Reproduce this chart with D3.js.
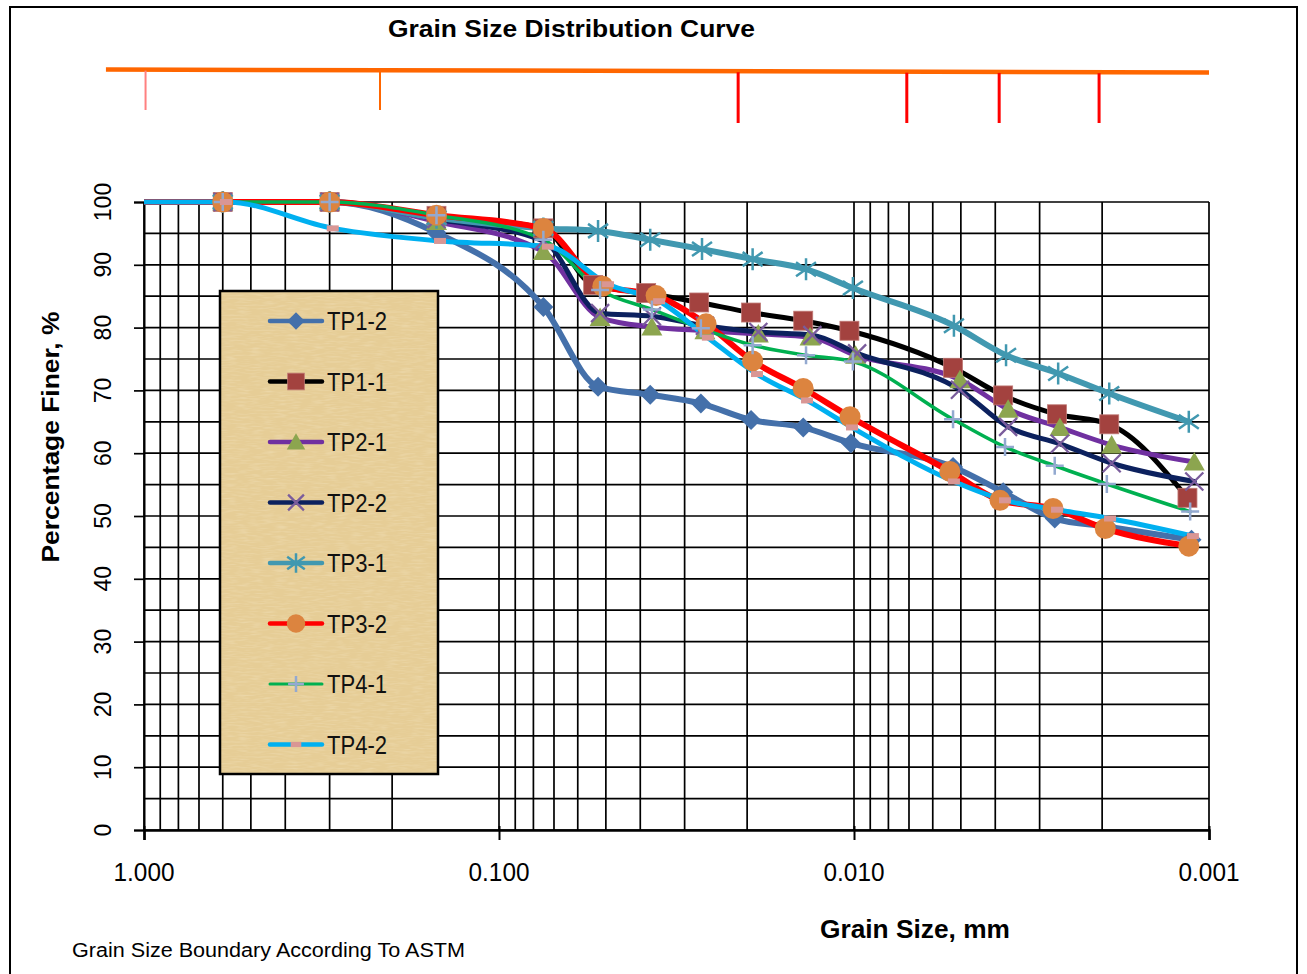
<!DOCTYPE html>
<html>
<head>
<meta charset="utf-8">
<script src="https://cdn.jsdelivr.net/npm/d3@7"></script>
<style>
  body { margin: 0; background: #fff; }
  text { font-family: "Liberation Sans", Arial, sans-serif; }
</style>
</head>
<body>
<div id="chart"></div>
<script>
// grain size (mm) and percent finer
const sizesTP12 = [1.18, 0.6, 0.3, 0.15, 0.075, 0.0526, 0.0375, 0.027, 0.0195, 0.0139, 0.0102, 0.00526, 0.0038, 0.00272, 0.00193, 0.00112];
const finerTP12 = [100, 100, 100, 95.1, 83.3, 70.6, 69.3, 67.9, 65.3, 64.1, 61.6, 57.8, 53.8, 49.6, 48.3, 46.2];

const sizesTP11 = [1.18, 0.6, 0.3, 0.15, 0.075, 0.0543, 0.0385, 0.0273, 0.0195, 0.0139, 0.0103, 0.00526, 0.0038, 0.00268, 0.00191, 0.00115];
const finerTP11 = [100, 100, 100, 97.8, 95.8, 86.8, 85.5, 84.0, 82.4, 81.1, 79.5, 73.6, 69.2, 66.2, 64.6, 52.9];

const sizesTP21 = [1.18, 0.6, 0.3, 0.15, 0.075, 0.0519, 0.0371, 0.0263, 0.0186, 0.0133, 0.0099, 0.00503, 0.00368, 0.00263, 0.00188, 0.0011];
const finerTP21 = [100, 100, 100, 96.9, 92.1, 81.6, 80.1, 79.5, 79.0, 78.5, 75.6, 71.7, 67.0, 64.1, 61.3, 58.6];

const sizesTP22 = [1.18, 0.6, 0.3, 0.15, 0.075, 0.0519, 0.0371, 0.0263, 0.0186, 0.0131, 0.0098, 0.00503, 0.00368, 0.00263, 0.00188, 0.0011];
const finerTP22 = [100, 100, 100, 97.3, 93.8, 82.3, 81.8, 80.3, 79.3, 78.8, 75.9, 70.1, 64.2, 61.5, 58.4, 55.5];

const sizesTP31 = [1.18, 0.6, 0.3, 0.15, 0.075, 0.0526, 0.0375, 0.0268, 0.0193, 0.01365, 0.01007, 0.00523, 0.00373, 0.00266, 0.00191, 0.00114];
const finerTP31 = [100, 100, 100, 97.5, 95.8, 95.4, 94.0, 92.5, 90.9, 89.3, 86.3, 80.3, 75.6, 72.7, 69.5, 65.0];

const sizesTP32 = [1.18, 0.6, 0.3, 0.15, 0.075, 0.051, 0.0361, 0.0261, 0.0193, 0.0139, 0.01026, 0.00537, 0.00388, 0.00275, 0.00196, 0.00114];
const finerTP32 = [100, 100, 100, 97.9, 95.8, 86.6, 85.1, 80.6, 74.7, 70.3, 65.8, 57.1, 52.5, 51.2, 48.0, 45.2];

const sizesTP41 = [1.18, 0.6, 0.3, 0.15, 0.075, 0.0519, 0.0371, 0.027, 0.0193, 0.01365, 0.01007, 0.00526, 0.003755, 0.00272, 0.00194, 0.00113];
const finerTP41 = [100, 100, 100, 97.9, 94.0, 86.0, 82.9, 79.9, 77.2, 75.6, 74.6, 65.4, 61.0, 58.0, 55.1, 50.7];

const sizesTP42 = [1.18, 0.588, 0.294, 0.1466, 0.0728, 0.0493, 0.0354, 0.0258, 0.01876, 0.01356, 0.01013, 0.00523, 0.003755, 0.00268, 0.0019, 0.00111];
const finerTP42 = [100, 100, 95.8, 93.8, 92.9, 86.9, 84.2, 78.4, 72.6, 68.4, 64.1, 55.5, 52.5, 51.0, 49.6, 46.8];

const seriesNames = ["TP1-2", "TP1-1", "TP2-1", "TP2-2", "TP3-1", "TP3-2", "TP4-1", "TP4-2"];

const xTickValues = [1, 0.1, 0.01, 0.001];
const xTickLabels = ["1.000", "0.100", "0.010", "0.001"];

// ASTM boundaries marked above the chart (mm)
const boundarySizes = [0.99, 0.2164, 0.0212, 0.0071, 0.0039, 0.00204];
const boundaryKinds = ["fine", "mid", "long", "long", "long", "long"];

const width = 1307;
const height = 974;
const plot = {left: 144, right: 1209, top: 202, bottom: 830};

const series = [
  {name: seriesNames[0], sizes: sizesTP12, finer: finerTP12, line: "#4470aa", lw: 6, marker: "diamond", mc: "#4470aa"},
  {name: seriesNames[1], sizes: sizesTP11, finer: finerTP11, line: "#000000", lw: 5, marker: "square", mc: "#a3423f"},
  {name: seriesNames[2], sizes: sizesTP21, finer: finerTP21, line: "#7030a0", lw: 5, marker: "triangle", mc: "#8ca54f"},
  {name: seriesNames[3], sizes: sizesTP22, finer: finerTP22, line: "#0c215e", lw: 5, marker: "x", mc: "#7a5c9c"},
  {name: seriesNames[4], sizes: sizesTP31, finer: finerTP31, line: "#4198b0", lw: 6, marker: "star", mc: "#4198b0"},
  {name: seriesNames[5], sizes: sizesTP32, finer: finerTP32, line: "#ff0000", lw: 6, marker: "circle", mc: "#dc843f"},
  {name: seriesNames[6], sizes: sizesTP41, finer: finerTP41, line: "#00b050", lw: 3.5, marker: "plus", mc: "#93a9d0"},
  {name: seriesNames[7], sizes: sizesTP42, finer: finerTP42, line: "#00b0f0", lw: 5, marker: "dash", mc: "#d99694"}
];

const x = d3.scaleLog().domain([1, 0.001]).range([plot.left, plot.right]);
const y = d3.scaleLinear().domain([0, 100]).range([plot.bottom, plot.top]);

const svg = d3.select("#chart").append("svg")
  .attr("width", width)
  .attr("height", height);

const defs = svg.append("defs");
defs.append("clipPath").attr("id", "plotclip")
  .append("rect")
  .attr("x", plot.left).attr("y", plot.top - 20)
  .attr("width", plot.right - plot.left + 10)
  .attr("height", plot.bottom - plot.top + 40);

const paper = defs.append("filter").attr("id", "paper")
  .attr("x", 0).attr("y", 0).attr("width", "100%").attr("height", "100%");
paper.append("feTurbulence")
  .attr("type", "fractalNoise")
  .attr("baseFrequency", "0.08 0.6")
  .attr("numOctaves", 2)
  .attr("seed", 4);
paper.append("feColorMatrix")
  .attr("type", "matrix")
  .attr("values", "0 0 0 0 1  0 0 0 0 0.94  0 0 0 0 0.78  0 0 0 0.5 -0.22");

// outer frame
svg.append("rect")
  .attr("x", 10).attr("y", 7)
  .attr("width", 1287).attr("height", 990)
  .attr("fill", "none")
  .attr("stroke", "#000")
  .attr("stroke-width", 2);

// grid
const grid = svg.append("g").attr("stroke", "#000").attr("stroke-width", 1.7);
grid.selectAll(".vg")
  .data(x.ticks())
  .join("line")
  .attr("class", "vg")
  .attr("x1", (d) => x(d)).attr("x2", (d) => x(d))
  .attr("y1", plot.top).attr("y2", plot.bottom);
grid.selectAll(".hg")
  .data(y.ticks(20))
  .join("line")
  .attr("class", "hg")
  .attr("x1", plot.left).attr("x2", plot.right)
  .attr("y1", (d) => y(d)).attr("y2", (d) => y(d));

// axes
const yAxis = svg.append("g")
  .attr("transform", `translate(${plot.left},0)`)
  .call(d3.axisLeft(y).tickValues(y.ticks(10)).tickSize(10).tickFormat(""));
yAxis.select(".domain").attr("stroke-width", 2);
yAxis.selectAll(".tick line").attr("stroke-width", 1.7);

const xAxis = svg.append("g")
  .attr("transform", `translate(0,${plot.bottom})`)
  .call(d3.axisBottom(x).tickValues(xTickValues).tickSize(10).tickFormat(""));
xAxis.select(".domain").attr("stroke-width", 2.5);
xAxis.selectAll(".tick line").attr("stroke-width", 2).attr("y1", -4);

svg.append("g")
  .selectAll("text")
  .data(y.ticks(10))
  .join("text")
  .attr("transform", (d) => `translate(111,${y(d)}) rotate(-90)`)
  .attr("text-anchor", "middle")
  .attr("font-size", 23)
  .text((d) => d);

svg.append("g")
  .selectAll("text")
  .data(xTickValues)
  .join("text")
  .attr("x", (d) => x(d))
  .attr("y", 881)
  .attr("text-anchor", "middle")
  .attr("font-size", 25)
  .attr("textLength", 61)
  .attr("lengthAdjust", "spacingAndGlyphs")
  .text((d, i) => xTickLabels[i]);

// series
const line = d3.line()
  .x((d) => x(d[0]))
  .y((d) => y(d[1]))
  .curve(d3.curveMonotoneX);

const pts = (s) => s.sizes.map((v, i) => [v, s.finer[i]]);

const plotArea = svg.append("g").attr("clip-path", "url(#plotclip)");
plotArea.selectAll(".series")
  .data(series)
  .join("path")
  .attr("class", "series")
  .attr("d", (s) => line(pts(s)))
  .attr("fill", "none")
  .attr("stroke", (s) => s.line)
  .attr("stroke-width", (s) => s.lw)
  .attr("stroke-linejoin", "round")
  .attr("stroke-linecap", "round");

const drawMarker = (g, kind, color, k) => {
  const s = k || 1;
  if (kind === "diamond") {
    g.append("path").attr("d", `M0,${-10 * s}L${10 * s},0L0,${10 * s}L${-10 * s},0Z`).attr("fill", color);
  } else if (kind === "square") {
    g.append("rect").attr("x", -9.5 * s).attr("y", -9.5 * s)
      .attr("width", 19 * s).attr("height", 19 * s)
      .attr("fill", color).attr("stroke", "#c07a76").attr("stroke-width", 0.8);
  } else if (kind === "triangle") {
    g.append("path").attr("d", `M0,${-10 * s}L${10.5 * s},${8.5 * s}L${-10.5 * s},${8.5 * s}Z`).attr("fill", color);
  } else if (kind === "x") {
    g.append("path").attr("d", `M${-9 * s},${-9 * s}L${9 * s},${9 * s}M${9 * s},${-9 * s}L${-9 * s},${9 * s}`)
      .attr("stroke", color).attr("stroke-width", 2.3);
  } else if (kind === "star") {
    g.append("path").attr("d", `M0,${-11 * s}L0,${11 * s}M${-10 * s},${-7 * s}L${10 * s},${7 * s}M${10 * s},${-7 * s}L${-10 * s},${7 * s}`)
      .attr("stroke", color).attr("stroke-width", 2.5);
  } else if (kind === "circle") {
    g.append("circle").attr("r", 10.5 * s).attr("fill", color);
  } else if (kind === "plus") {
    g.append("path").attr("d", `M0,${-9 * s}L0,${9 * s}M${-9 * s},0L${9 * s},0`)
      .attr("stroke", color).attr("stroke-width", 2.5);
  } else if (kind === "dash") {
    g.append("rect").attr("x", -6 * s).attr("y", -3 * s)
      .attr("width", 12 * s).attr("height", 6 * s).attr("fill", color);
  }
};

series.forEach((s) => {
  const mg = plotArea.append("g");
  pts(s).forEach((p) => {
    if (x(p[0]) < plot.left) { return; }
    const g = mg.append("g").attr("transform", `translate(${x(p[0])},${y(p[1])})`);
    drawMarker(g, s.marker, s.mc);
  });
});

// legend
const legend = svg.append("g");
legend.append("rect")
  .attr("x", 220).attr("y", 291)
  .attr("width", 218).attr("height", 483)
  .attr("fill", "#e6cd96");
legend.append("rect")
  .attr("x", 220).attr("y", 291)
  .attr("width", 218).attr("height", 483)
  .attr("filter", "url(#paper)");
legend.append("rect")
  .attr("x", 220).attr("y", 291)
  .attr("width", 218).attr("height", 483)
  .attr("fill", "none")
  .attr("stroke", "#000")
  .attr("stroke-width", 2.5);

series.forEach((s, i) => {
  const ly = 321 + i * 60.5;
  legend.append("line")
    .attr("x1", 270).attr("x2", 322)
    .attr("y1", ly).attr("y2", ly)
    .attr("stroke", s.line)
    .attr("stroke-width", s.lw === 3.5 ? 3 : 4.5)
    .attr("stroke-linecap", "round");
  drawMarker(legend.append("g").attr("transform", `translate(296,${ly})`), s.marker, s.mc, 0.88);
  legend.append("text")
    .attr("x", 327).attr("y", ly + 9)
    .attr("font-size", 25)
    .attr("textLength", 60)
    .attr("lengthAdjust", "spacingAndGlyphs")
    .attr("fill", "#111")
    .text(s.name);
});

// ASTM boundary line
const bx0 = x(1.28);
svg.append("line")
  .attr("x1", bx0).attr("y1", 69.5)
  .attr("x2", plot.right).attr("y2", 72.5)
  .attr("stroke", "#ff6600")
  .attr("stroke-width", 4.5);
const by = (v) => 69.5 + 3 * (x(v) - bx0) / (plot.right - bx0);
svg.append("g")
  .selectAll("line")
  .data(boundarySizes)
  .join("line")
  .attr("x1", (d) => x(d)).attr("x2", (d) => x(d))
  .attr("y1", (d) => by(d) + 1)
  .attr("y2", (d, i) => (boundaryKinds[i] === "long" ? 123 : 110))
  .attr("stroke", (d, i) => ({fine: "#ff8080", mid: "#ff6600", long: "#ff0000"})[boundaryKinds[i]])
  .attr("stroke-width", (d, i) => (boundaryKinds[i] === "long" ? 3 : 2));

// titles
svg.append("text")
  .attr("x", 388).attr("y", 37)
  .attr("font-size", 23.5)
  .attr("font-weight", "bold")
  .attr("textLength", 367)
  .attr("lengthAdjust", "spacingAndGlyphs")
  .text("Grain Size Distribution Curve");

svg.append("text")
  .attr("x", 820).attr("y", 938)
  .attr("font-size", 25)
  .attr("font-weight", "bold")
  .attr("textLength", 190)
  .attr("lengthAdjust", "spacingAndGlyphs")
  .text("Grain Size, mm");

svg.append("text")
  .attr("transform", "translate(59,437) rotate(-90)")
  .attr("text-anchor", "middle")
  .attr("font-size", 23)
  .attr("font-weight", "bold")
  .attr("textLength", 251)
  .attr("lengthAdjust", "spacingAndGlyphs")
  .text("Percentage Finer, %");

svg.append("text")
  .attr("x", 72).attr("y", 957)
  .attr("font-size", 20)
  .attr("textLength", 393)
  .attr("lengthAdjust", "spacingAndGlyphs")
  .text("Grain Size Boundary According To ASTM");
</script>
</body>
</html>
